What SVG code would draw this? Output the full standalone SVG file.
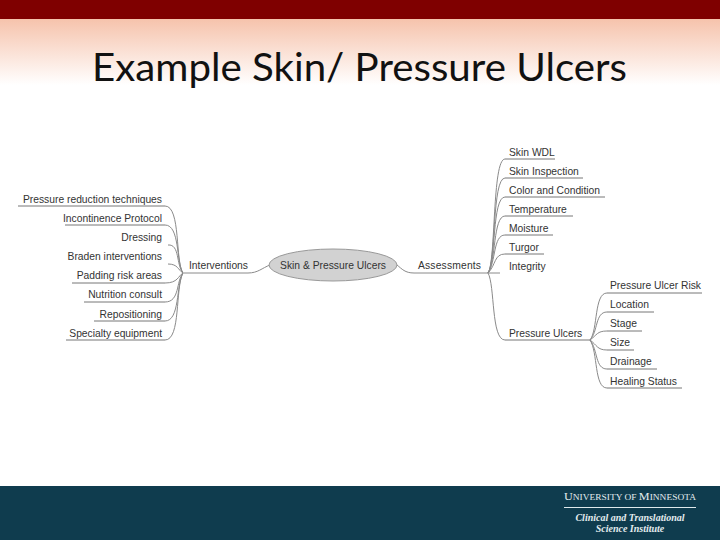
<svg xmlns="http://www.w3.org/2000/svg" width="720" height="540" viewBox="0 0 720 540">
<style>
.t{font-family:"Liberation Sans",Arial,sans-serif;font-size:10.3px;fill:#333}
.e{text-anchor:end}
.c{fill:none;stroke:#8a8a8a;stroke-width:1}
.u{fill:none;stroke:#777;stroke-width:1}
.f{font-family:"Liberation Serif","Times New Roman",serif;fill:#e4ecef;text-anchor:middle}
</style>
<defs><linearGradient id="g" x1="0" y1="0" x2="0" y2="1"><stop offset="0" stop-color="#f6c3ac"/><stop offset="1" stop-color="#fff"/></linearGradient></defs>
<rect width="720" height="540" fill="#fff"/>
<rect y="19" width="720" height="66" fill="url(#g)"/>
<rect width="720" height="19" fill="#7f0000"/>
<text x="92" y="81" textLength="535" lengthAdjust="spacingAndGlyphs" font-family="Lato,'Open Sans',sans-serif" font-size="39" fill="#111">Example Skin/ Pressure Ulcers</text>
<rect y="486" width="720" height="54" fill="#0f3c4e"/>
<g id="footer">
<text class="f" x="630" y="500" textLength="132" lengthAdjust="spacingAndGlyphs" font-size="11">U<tspan font-size="8.5">NIVERSITY OF </tspan>M<tspan font-size="8.5">INNESOTA</tspan></text>
<rect x="564" y="507" width="132" height="1" fill="#dfe9ec"/>
<text class="f" x="630" y="521" font-size="10" font-style="italic" font-weight="bold">Clinical and Translational</text>
<text class="f" x="630" y="532" font-size="10" font-style="italic" font-weight="bold">Science Institute</text>
</g>
<g id="connectors">
<path class="c" d="M270 265C262 268 258 273 248 273H184"/>
<path class="c" d="M183 273C175 262 181 206 165 206M183 273C176 262 180 225 165 225M183 273C176 265 180 244 168 245M183 273C178 270 178 264 168 264M183 273C178 276 178 283 165 283M183 273C176 281 180 302 165 302M183 273C176 285 180 321 165 321M183 273C175 288 181 340 165 340"/>
<path class="u" d="M18 206H165M65 225H165M72 283H165M84 302H165M94 321H165M66 340H165"/>
<path class="c" d="M397 265C402 269 405 273 414 273H488"/>
<path class="c" d="M488 273C496 262 492 159 505 159M488 273C496 262 492 178 505 178M488 273C496 262 492 197 505 197M488 273C496 262 493 216 505 216M488 273C496 262 493 235 505 235M488 273C496 265 494 254 505 254M488 273H500M488 273C495 285 491 340 505 340"/>
<path class="u" d="M505 159H555M505 178H583M505 197H605M505 216H573M505 235H553M505 254H544M505 340H590"/>
<path class="c" d="M590 340C598 330 594 293 607 293M590 340C598 332 595 312 607 312M590 340C597 335 597 331 607 331M590 340C597 345 597 350 607 350M590 340C598 350 595 369 607 369M590 340C598 352 594 388 607 388"/>
<path class="u" d="M607 293H702M607 312H654M607 331H642M607 350H634M607 369H657M607 388H682"/>
</g>
<g id="root"><ellipse cx="333" cy="265" rx="64" ry="16" fill="#d2d2d2" stroke="#999"/><text class="t" x="333" y="269" text-anchor="middle" textLength="106" lengthAdjust="spacingAndGlyphs">Skin &amp; Pressure Ulcers</text></g>
<g id="interventions"><text class="t" x="189" y="269" textLength="59">Interventions</text></g>
<g id="assessments"><text class="t" x="418" y="269" textLength="63">Assessments</text></g>
<g id="left-items">
<text class="t e" x="162" y="203">Pressure reduction techniques</text>
<text class="t e" x="162" y="222">Incontinence Protocol</text>
<text class="t e" x="162" y="241">Dressing</text>
<text class="t e" x="162" y="260">Braden interventions</text>
<text class="t e" x="162" y="279">Padding risk areas</text>
<text class="t e" x="162" y="298">Nutrition consult</text>
<text class="t e" x="162" y="318">Repositioning</text>
<text class="t e" x="162" y="337">Specialty equipment</text>
</g>
<g id="right-items">
<text class="t" x="509" y="156">Skin WDL</text>
<text class="t" x="509" y="175">Skin Inspection</text>
<text class="t" x="509" y="194">Color and Condition</text>
<text class="t" x="509" y="213">Temperature</text>
<text class="t" x="509" y="232">Moisture</text>
<text class="t" x="509" y="251">Turgor</text>
<text class="t" x="509" y="270">Integrity</text>
<text class="t" x="509" y="337">Pressure Ulcers</text>
</g>
<g id="ulcer-items">
<text class="t" x="610" y="289">Pressure Ulcer Risk</text>
<text class="t" x="610" y="308">Location</text>
<text class="t" x="610" y="327">Stage</text>
<text class="t" x="610" y="346">Size</text>
<text class="t" x="610" y="365">Drainage</text>
<text class="t" x="610" y="385">Healing Status</text>
</g>
</svg>
